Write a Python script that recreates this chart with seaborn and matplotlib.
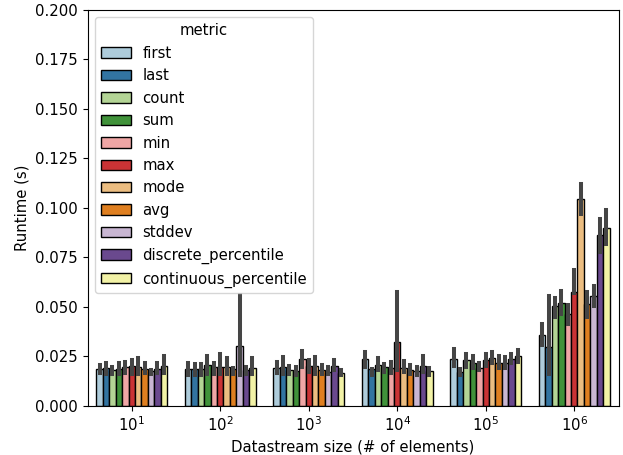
import matplotlib
matplotlib.use("Agg")
import matplotlib.pyplot as plt
import seaborn as sns
import numpy as np
import pandas as pd

sizes = ["$10^{1}$", "$10^{2}$", "$10^{3}$", "$10^{4}$", "$10^{5}$", "$10^{6}$"]
metrics = ["first", "last", "count", "sum", "min", "max", "mode", "avg",
           "stddev", "discrete_percentile", "continuous_percentile"]

# mean runtime per metric (rows) and datastream size (columns)
runtime_mean = [
    [0.0187, 0.0186, 0.0192, 0.0233, 0.0236, 0.0354],  # first
    [0.0189, 0.0186, 0.0197, 0.0186, 0.0169, 0.0295],  # last
    [0.0180, 0.0186, 0.0177, 0.0207, 0.0228, 0.0501],  # count
    [0.0186, 0.0206, 0.0172, 0.0194, 0.0216, 0.0520],  # sum
    [0.0194, 0.0194, 0.0233, 0.0191, 0.0191, 0.0461],  # min
    [0.0201, 0.0197, 0.0199, 0.0321, 0.0231, 0.0570],  # max
    [0.0194, 0.0194, 0.0199, 0.0191, 0.0241, 0.1043],  # mode
    [0.0186, 0.0186, 0.0181, 0.0180, 0.0216, 0.0511],  # avg
    [0.0172, 0.0299, 0.0169, 0.0172, 0.0214, 0.0552],  # stddev
    [0.0186, 0.0177, 0.0202, 0.0202, 0.0236, 0.0860],  # discrete_percentile
    [0.0201, 0.0191, 0.0165, 0.0172, 0.0248, 0.0897],  # continuous_percentile
]
# lower end of the confidence interval
runtime_low = [
    [0.0164, 0.0152, 0.0164, 0.0197, 0.0199, 0.0304],
    [0.0160, 0.0152, 0.0160, 0.0152, 0.0152, 0.0157],
    [0.0160, 0.0155, 0.0160, 0.0177, 0.0197, 0.0447],
    [0.0160, 0.0160, 0.0152, 0.0169, 0.0192, 0.0464],
    [0.0164, 0.0160, 0.0194, 0.0164, 0.0177, 0.0410],
    [0.0160, 0.0160, 0.0169, 0.0177, 0.0202, 0.0574],
    [0.0160, 0.0160, 0.0160, 0.0169, 0.0214, 0.0970],
    [0.0164, 0.0157, 0.0160, 0.0160, 0.0191, 0.0450],
    [0.0160, 0.0152, 0.0160, 0.0152, 0.0191, 0.0501],
    [0.0164, 0.0160, 0.0177, 0.0169, 0.0214, 0.0776],
    [0.0164, 0.0160, 0.0155, 0.0155, 0.0219, 0.0815],
]
# upper end of the confidence interval
runtime_high = [
    [0.0207, 0.0216, 0.0218, 0.0270, 0.0285, 0.0410],
    [0.0214, 0.0211, 0.0245, 0.0186, 0.0187, 0.0552],
    [0.0194, 0.0211, 0.0202, 0.0240, 0.0260, 0.0543],
    [0.0216, 0.0248, 0.0194, 0.0211, 0.0248, 0.0577],
    [0.0221, 0.0216, 0.0278, 0.0218, 0.0214, 0.0509],
    [0.0229, 0.0261, 0.0231, 0.0574, 0.0261, 0.0683],
    [0.0241, 0.0240, 0.0245, 0.0223, 0.0273, 0.1122],
    [0.0216, 0.0189, 0.0206, 0.0206, 0.0248, 0.0574],
    [0.0180, 0.0557, 0.0194, 0.0197, 0.0245, 0.0604],
    [0.0216, 0.0197, 0.0228, 0.0250, 0.0261, 0.0945],
    [0.0248, 0.0240, 0.0182, 0.0191, 0.0283, 0.0987],
]
y_ticks = [0.000, 0.025, 0.050, 0.075, 0.100, 0.125, 0.150, 0.175, 0.200]

rows = []
for mi, m in enumerate(metrics):
    for si, s in enumerate(sizes):
        for v in (runtime_low[mi][si], runtime_mean[mi][si], runtime_high[mi][si]):
            rows.append({"size": s, "metric": m, "runtime": v})
df = pd.DataFrame(rows)

plt.rcParams["font.size"] = 10.7

fig = plt.figure(figsize=(6.23, 4.55), dpi=100)
ax = fig.add_axes([87.5 / 623, 1 - 405.5 / 455, (618.5 - 87.5) / 623, (405.5 - 10) / 455])

sns.barplot(data=df, x="size", y="runtime", hue="metric", order=sizes,
            hue_order=metrics, palette="Paired", edgecolor="black",
            estimator=np.median, errorbar=lambda v: (v.min(), v.max()),
            err_kws={"linewidth": 2.9, "color": ".27"}, ax=ax)

ax.set_ylim(0, 0.2)
ax.set_yticks(y_ticks)
ax.set_xlabel("Datastream size (# of elements)")
ax.set_ylabel("Runtime (s)")
sns.move_legend(ax, "upper left", title="metric")

fig.savefig("out.png", dpi=100)
